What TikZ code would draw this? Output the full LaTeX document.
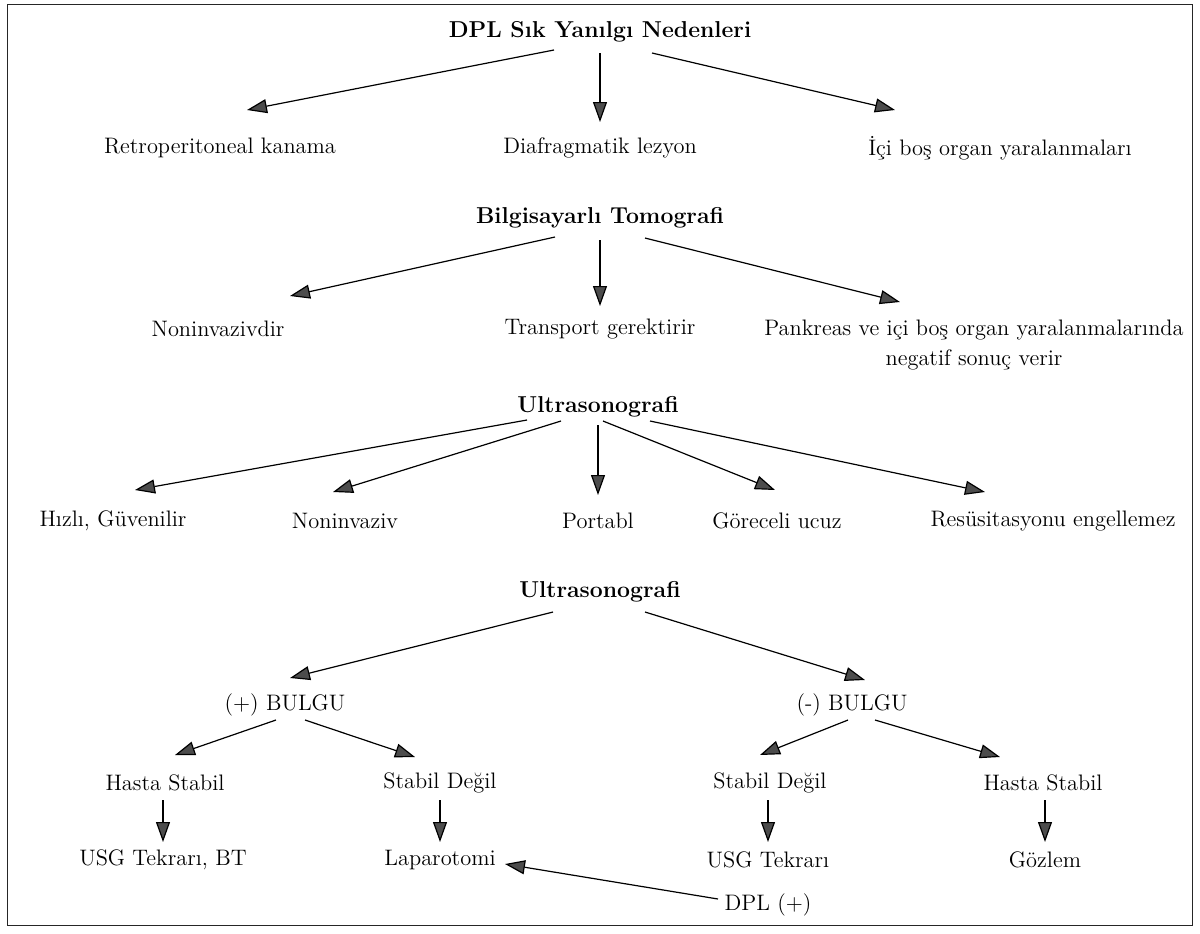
\documentclass[tikz,border=0pt]{standalone}
\usetikzlibrary{arrows.meta,calc}

\tikzset{
    lbl/.style={font=\fontsize{11.2}{15}\selectfont, inner sep=1pt, align=center},
    hdr/.style={font=\fontsize{11.5}{15}\selectfont\bfseries, inner sep=1pt},
    arr/.style={draw=black, line width=0.6pt,
        -{Triangle[length=10pt, width=7pt, fill=black!70]}},
}

\begin{document}
\begin{tikzpicture}
[
    x=0.5pt, y=-0.5pt,
]
\useasboundingbox (0,0) rectangle (1200,933);
\draw[line width=0.5pt, black!85] (7,4) rectangle (1192,925);

% DPL
\node[hdr] (dpl) at (600,32) {DPL Sık Yanılgı Nedenleri};
\node[lbl] (retro) at (220,148) {Retroperitoneal kanama};
\node[lbl] (diaf) at (600,148) {Diafragmatik lezyon};
\node[lbl] (ici) at (1000,148) {İçi boş organ yaralanmaları};
\draw[arr] ($(dpl)+(-46,18)$) -- ($(retro)+(27,-38)$);
\draw[arr] ($(dpl)+(0,21)$) -- ($(diaf)+(0,-26)$);
\draw[arr] ($(dpl)+(52,21)$) -- ($(ici)+(-105,-38)$);

% BT
\node[hdr] (bt) at (600,218) {Bilgisayarlı Tomografi};
\node[lbl] (noninvdir) at (218,329) {Noninvazivdir};
\node[lbl] (transport) at (600,329) {Transport gerektirir};
\node[lbl] (pankreas) at (974,345) {Pankreas ve içi boş organ yaralanmalarında\\negatif sonuç verir};
\draw[arr] ($(bt)+(-45,19)$) -- ($(noninvdir)+(72,-33)$);
\draw[arr] ($(bt)+(0,22)$) -- ($(transport)+(0,-23)$);
\draw[arr] ($(bt)+(45,20)$) -- ($(pankreas)+(-74,-43)$);

% USG
\node[hdr] (usg) at (598,407) {Ultrasonografi};
\node[lbl] (hizli) at (113,521) {Hızlı, Güvenilir};
\node[lbl] (noninv) at (345,521) {Noninvaziv};
\node[lbl] (portabl) at (598,521) {Portabl};
\node[lbl] (goreceli) at (777,521) {Göreceli ucuz};
\node[lbl] (resus) at (1053,521) {Resüsitasyonu engellemez};
\draw[arr] ($(usg)+(-71,13)$) -- ($(hizli)+(22,-31)$);
\draw[arr] ($(usg)+(-37,14)$) -- ($(noninv)+(-12,-29)$);
\draw[arr] ($(usg)+(0,18)$) -- ($(portabl)+(0,-26)$);
\draw[arr] ($(usg)+(5,14)$) -- ($(goreceli)+(-2,-31)$);
\draw[arr] ($(usg)+(52,14)$) -- ($(resus)+(-68,-29)$);

% USG algoritma
\node[hdr] (usgb) at (600,592) {Ultrasonografi};
\node[lbl] (pos) at (285,705) {(+) BULGU};
\node[lbl] (neg) at (852,705) {(-) BULGU};
\draw[arr] ($(usgb)+(-47,20)$) -- ($(pos)+(5,-27)$);
\draw[arr] ($(usgb)+(45,20)$) -- ($(neg)+(13,-25)$);

\node[lbl] (posstab) at (165,783) {Hasta Stabil};
\node[lbl] (posunst) at (440,783) {Stabil Değil};
\node[lbl] (negunst) at (770,783) {Stabil Değil};
\node[lbl] (negstab) at (1043,783) {Hasta Stabil};
\draw[arr] ($(pos)+(-9,15)$) -- ($(posstab)+(10,-28)$);
\draw[arr] ($(pos)+(20,15)$) -- ($(posunst)+(-25,-26)$);
\draw[arr] ($(neg)+(-4,15)$) -- ($(negunst)+(-10,-28)$);
\draw[arr] ($(neg)+(23,15)$) -- ($(negstab)+(-43,-26)$);

\node[lbl] (usgbt) at (163,860) {USG Tekrarı, BT};
\node[lbl] (laparo) at (440,860) {Laparotomi};
\node[lbl] (usgtek) at (768,860) {USG Tekrarı};
\node[lbl] (gozlem) at (1045,860) {Gözlem};
\draw[arr] ($(posstab)+(-2,17)$) -- ($(usgbt)+(0,-18)$);
\draw[arr] ($(posunst)+(0,17)$) -- ($(laparo)+(0,-18)$);
\draw[arr] ($(negunst)+(-2,17)$) -- ($(usgtek)+(0,-18)$);
\draw[arr] ($(negstab)+(2,17)$) -- ($(gozlem)+(0,-18)$);

\node[lbl] (dplpos) at (768,905) {DPL (+)};
\draw[arr] ($(dplpos)+(-50,-6)$) -- ($(laparo)+(65,4)$);
\end{tikzpicture}
\end{document}
